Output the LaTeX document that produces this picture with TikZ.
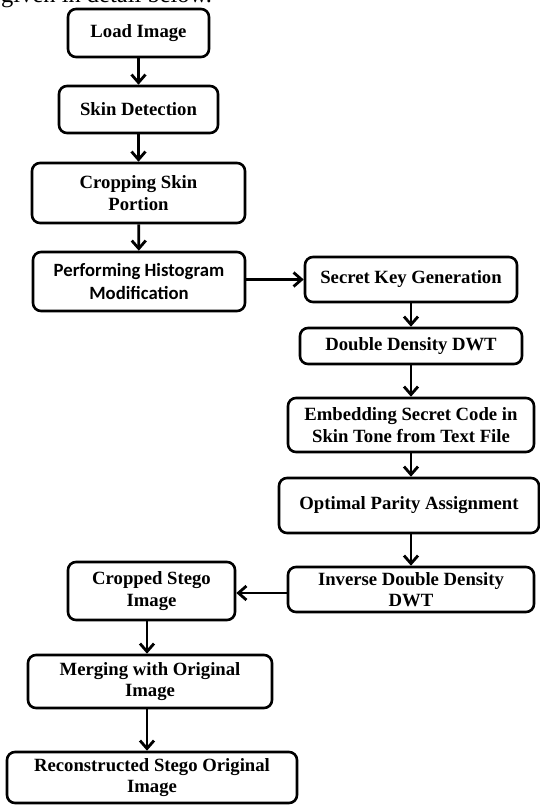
\documentclass[tikz,border=0pt]{standalone}
\usepackage{fontspec}
\setmainfont{Liberation Serif}
\newfontfamily\calib{Carlito}
\usetikzlibrary{arrows.meta}
\tikzset{
  stepbox/.style={draw=black, line width=2.6pt, rounded corners=8pt, inner sep=0pt,
    align=center, font=\bfseries\fontsize{18.7}{21.5}\selectfont, text=black, fill=white},
  arr/.style={draw=black, line width=2.8pt, -{Straight Barb[length=8pt,width=14pt]}},
}
\begin{document}
\begin{tikzpicture}[x=1pt,y=-1pt]
\useasboundingbox (0,0) rectangle (539,805);
\node[anchor=base west, inner sep=0pt, font=\fontsize{24.5}{28}\selectfont] (hdr) at (1,2.5) {given in detail below.};
% left column
\node[stepbox, minimum width=141pt, minimum height=48pt] (load) at (138.5,33) {Load Image};
\node[stepbox, minimum width=159pt, minimum height=47pt] (skin) at (138.5,109.5) {Skin Detection};
\node[stepbox, minimum width=213pt, minimum height=60pt] (crop) at (138.5,193) {Cropping Skin\\Portion};
\node[stepbox, minimum width=212pt, minimum height=59pt, font=\calib\bfseries\fontsize{18.7}{22.5}\selectfont] (hist) at (139,281.5) {Performing Histogram\\Modification};
% right column
\node[stepbox, minimum width=212pt, minimum height=45pt] (key) at (411,279.5) {Secret Key Generation};
\node[stepbox, minimum width=222pt, minimum height=36pt] (dd) at (411,346) {Double Density DWT};
\node[stepbox, minimum width=246pt, minimum height=54pt] (emb) at (411,425) {Embedding Secret Code in\\Skin Tone from Text File};
\node[stepbox, minimum width=260pt, minimum height=55pt] (opa) at (409,505.5) {Optimal Parity Assignment};
\node[stepbox, minimum width=246pt, minimum height=45pt] (inv) at (411,589.5) {Inverse Double Density\\DWT};
% bottom left
\node[stepbox, minimum width=167pt, minimum height=58pt] (cst) at (151.5,591) {Cropped Stego\\Image};
\node[stepbox, minimum width=244pt, minimum height=53pt] (mrg) at (150,681.5) {Merging with Original\\Image};
\node[stepbox, minimum width=290pt, minimum height=51pt] (rec) at (152,777.5) {Reconstructed Stego Original\\Image};
% connectors
\coordinate (xl) at (147,0);
\coordinate (xr) at (411,0);
\draw[arr] (load) -- (skin);
\draw[arr] (skin) -- (crop);
\draw[arr] (crop) -- (hist);
\draw[arr] (hist.east |- key) -- (key.west);
\draw[arr] (key.south -| xr) -- (dd.north -| xr);
\draw[arr] (dd.south -| xr) -- (emb.north -| xr);
\draw[arr] (emb.south -| xr) -- (opa.north -| xr);
\draw[arr] (opa.south -| xr) -- (inv.north -| xr);
\draw[arr] (inv.west |- 0,593) -- (cst.east |- 0,593);
\draw[arr] (cst.south -| xl) -- (mrg.north -| xl);
\draw[arr] (mrg.south -| xl) -- (rec.north -| xl);
\end{tikzpicture}
\end{document}
